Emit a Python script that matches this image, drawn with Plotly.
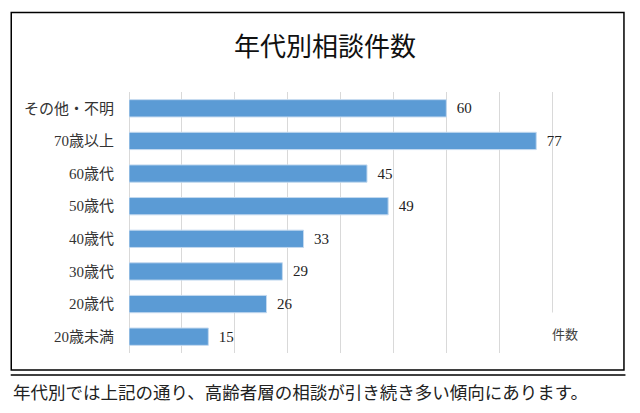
import plotly.graph_objects as go

categories = ["その他・不明", "70歳以上", "60歳代", "50歳代", "40歳代", "30歳代", "20歳代", "20歳未満"]
counts = [60, 77, 45, 49, 33, 29, 26, 15]
x_ticks = list(range(0, 100, 10))

title_text = "年代別相談件数"
axis_title = "件数"
caption = "年代別では上記の通り、高齢者層の相談が引き続き多い傾向にあります。"

serif = "Liberation Serif, Noto Sans CJK JP, serif"
sans = "Noto Sans CJK JP, sans-serif"

W, H = 640, 413
L, R, T, B = 128.5, 34.5, 92, 60
pw, ph = W - L - R, H - T - B


def px_x(v):
    return (v - L) / pw


def px_y(v):
    return (H - B - v) / ph


fig = go.Figure()
fig.add_bar(
    x=counts,
    y=categories,
    orientation="h",
    marker=dict(color="#5b9bd5", line=dict(color="#c3d9ef", width=1)),
    texttemplate="  %{x}",
    textposition="outside",
    textfont=dict(family=serif, size=15, color="#222222"),
    cliponaxis=False,
    hoverinfo="x+y",
)

fig.update_layout(
    width=W,
    height=H,
    margin=dict(l=L, r=R, t=T, b=B),
    plot_bgcolor="white",
    paper_bgcolor="white",
    showlegend=False,
    bargap=0.47,
    xaxis=dict(
        range=[0, 90],
        tickvals=x_ticks,
        showticklabels=False,
        showgrid=True,
        gridcolor="#d9d9d9",
        gridwidth=1,
        zeroline=True,
        zerolinecolor="#d9d9d9",
        zerolinewidth=1,
        showline=False,
        fixedrange=True,
    ),
    yaxis=dict(
        categoryorder="array",
        categoryarray=categories[::-1],
        tickfont=dict(family=serif, size=15, color="#333333"),
        ticklabelstandoff=14,
        showgrid=False,
        showline=False,
        fixedrange=True,
    ),
    font=dict(family=serif),
)

# white box around the axis title, as in the source, hiding the last gridlines
fig.add_shape(
    type="rect", xref="paper", yref="paper",
    x0=px_x(540), x1=px_x(615), y0=px_y(353.5), y1=px_y(312.5),
    fillcolor="white", line=dict(width=0), layer="above",
)

# chart frame
fig.add_shape(
    type="rect", xref="paper", yref="paper",
    x0=px_x(10.5), x1=px_x(624.5), y0=px_y(370), y1=px_y(12.5),
    line=dict(color="black", width=1.5), fillcolor="rgba(0,0,0,0)", layer="above",
)
# separator line under the frame
fig.add_shape(
    type="line", xref="paper", yref="paper",
    x0=px_x(10), x1=px_x(626), y0=px_y(375), y1=px_y(375),
    line=dict(color="black", width=1.5), layer="above",
)

fig.add_annotation(
    text=title_text, xref="paper", yref="paper",
    x=px_x(324.5), y=px_y(48), xanchor="center", yanchor="middle",
    showarrow=False, font=dict(family=serif, size=26, color="#111111"),
)
fig.add_annotation(
    text=axis_title, xref="paper", yref="paper",
    x=px_x(565), y=px_y(333), xanchor="center", yanchor="middle",
    showarrow=False, font=dict(family=sans, size=13, color="#404040"),
)
fig.add_annotation(
    text=caption, xref="paper", yref="paper",
    x=px_x(10), y=px_y(393), xanchor="left", yanchor="middle",
    showarrow=False, font=dict(family=serif, size=17.5, color="#222222"),
)

fig.write_html(
    "out.html",
    config={"displayModeBar": False},
    post_script="document.body.style.margin='0';document.body.style.overflow='hidden';",
)
